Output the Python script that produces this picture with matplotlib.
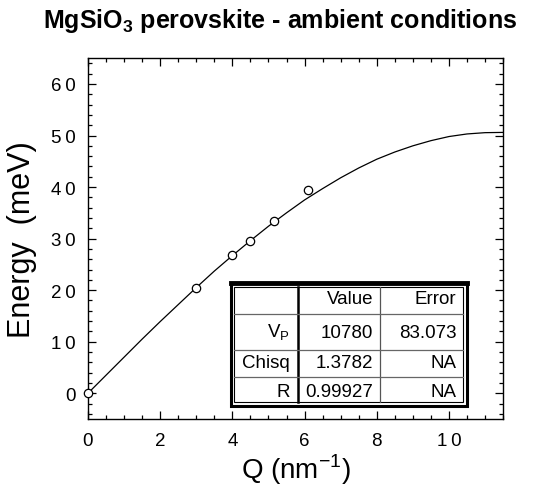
import matplotlib
matplotlib.use('Agg')
import matplotlib.pyplot as plt
from matplotlib.ticker import MultipleLocator, FuncFormatter
from matplotlib.patches import Rectangle

plt.rcParams['font.family'] = ['Liberation Sans', 'DejaVu Sans']
plt.rcParams['mathtext.fontset'] = 'custom'
plt.rcParams['mathtext.rm'] = 'Liberation Sans'
plt.rcParams['mathtext.bf'] = 'Liberation Sans:bold'

# measured points
q_data = [0.0, 3.0, 4.0, 4.5, 5.15, 6.1]
e_data = [0.0, 20.4, 26.8, 29.5, 33.4, 39.4]

# fitted dispersion curve
q_fit = [0.0, 0.5, 1.0, 1.5, 2.0, 2.5, 3.0, 3.5, 4.0, 4.5, 5.0, 5.5,
         6.0, 6.5, 7.0, 7.5, 8.0, 8.5, 9.0, 9.5, 10.0, 10.5, 11.0, 11.5]
e_fit = [0.0, 3.5, 7.0, 10.5, 13.9, 17.2, 20.5, 23.7, 26.7, 29.6, 32.4, 35.0,
         37.5, 39.7, 41.8, 43.7, 45.4, 46.8, 48.0, 49.0, 49.8, 50.3, 50.55, 50.6]

# fit results table
col_labels = ['', 'Value', 'Error']
row_labels = ['V$_\\mathrm{P}$', 'Chisq', 'R']
fit_values = ['10780', '1.3782', '0.99927']
fit_errors = ['83.073', 'NA', 'NA']


def spaced(v, pos):
    # old plotting program spaced its tick digits apart
    return '\u2009'.join(str(int(round(v))))


def draw_table(fig):
    tab = fig.add_axes([0.433, 0.168, 0.443, 0.251])
    tab.set_xlim(0, 1)
    tab.set_ylim(0, 1)
    tab.axis('off')
    tab.add_patch(Rectangle((0, 0), 1, 1, fill=False, lw=2.2, ec='black',
                            clip_on=False))
    tab.add_patch(Rectangle((0.015, 0.03), 0.97, 0.94, fill=False, lw=0.8,
                            ec='black', clip_on=False))
    tab.plot([0, 1], [1, 1], color='black', lw=3.5, clip_on=False)
    col_x = [0.286, 0.633]
    row_y = [0.748, 0.455, 0.238]
    tab.plot([col_x[0]] * 2, [0.03, 0.97], color='black', lw=1.8)
    tab.plot([col_x[1]] * 2, [0.03, 0.97], color='#555555', lw=0.9)
    for y in row_y:
        tab.plot([0.015, 0.985], [y, y], color='#666666', lw=0.9)
    text_x = [0.25, 0.603, 0.955]
    text_y = [0.874, 0.60, 0.35, 0.12]
    for j, lab in enumerate(col_labels):
        tab.text(text_x[j], text_y[0], lab, ha='right', va='center', fontsize=13.5)
    for i in range(3):
        cells = [row_labels[i], fit_values[i], fit_errors[i]]
        for j, lab in enumerate(cells):
            tab.text(text_x[j], text_y[i + 1], lab, ha='right', va='center',
                     fontsize=13.5)


def main():
    fig = plt.figure(figsize=(5.33, 4.89), dpi=100)
    ax = fig.add_axes([0.165, 0.141, 0.779, 0.738])
    ax.plot(q_fit, e_fit, color='black', lw=0.9)
    ax.plot(q_data, e_data, 'o', mfc='white', mec='black', ms=6, mew=0.9,
            clip_on=False, zorder=3)
    ax.set_xlim(0, 11.5)
    ax.set_ylim(-5, 65)
    ax.xaxis.set_major_locator(MultipleLocator(2))
    ax.xaxis.set_minor_locator(MultipleLocator(0.5))
    ax.yaxis.set_major_locator(MultipleLocator(10))
    ax.yaxis.set_minor_locator(MultipleLocator(2))
    ax.xaxis.set_major_formatter(FuncFormatter(spaced))
    ax.yaxis.set_major_formatter(FuncFormatter(spaced))
    ax.tick_params(which='both', direction='in', top=True, right=True,
                   width=0.9)
    ax.tick_params(which='major', length=6, labelsize=13.5, pad=9)
    ax.tick_params(which='minor', length=3)
    for s in ax.spines.values():
        s.set_linewidth(1.0)
    ax.set_xlabel('Q (nm$^{-1}$)', fontsize=20, labelpad=2)
    ax.set_ylabel('Energy  (meV)', fontsize=22, labelpad=10)
    fig.text(0.525, 0.958, 'MgSiO$_{\\mathbf{3}}$ perovskite - ambient conditions',
             ha='center', va='center', fontsize=18, fontweight='bold')
    draw_table(fig)
    fig.savefig('out.png', dpi=100)


if __name__ == '__main__':
    main()
